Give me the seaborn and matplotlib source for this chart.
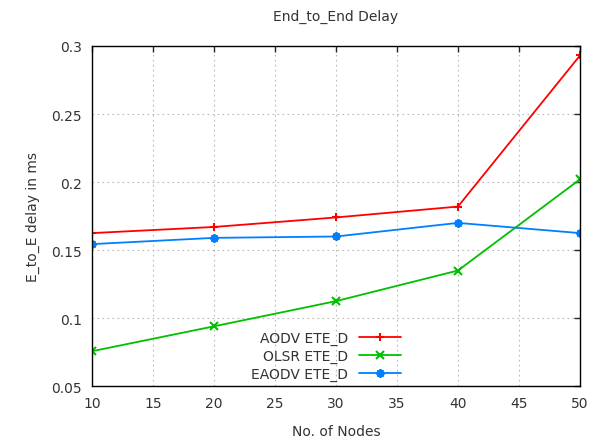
import numpy as np
import pandas as pd
import matplotlib
matplotlib.use("Agg")
import matplotlib.pyplot as plt
import seaborn as sns

nodes = [10, 20, 30, 40, 50]
aodv = [0.1625, 0.167, 0.174, 0.182, 0.293]
olsr = [0.0757, 0.094, 0.1125, 0.135, 0.202]
eaodv = [0.1544, 0.159, 0.160, 0.170, 0.1625]

series = ["AODV ETE_D", "OLSR ETE_D", "EAODV ETE_D"]
colors = ["#ff0000", "#00c000", "#0080ff"]
markers = ["+", "x", (8, 2, 0)]

df = pd.DataFrame({
    "nodes": nodes * 3,
    "delay": aodv + olsr + eaodv,
    "series": np.repeat(series, len(nodes)),
})

sns.set_style("white")
plt.rcParams["font.family"] = ["DejaVu Sans"]

fig = plt.figure(figsize=(6.01, 4.39), dpi=100)
ax = fig.add_axes([0.153, 0.118, 0.812, 0.775])

sns.lineplot(data=df, x="nodes", y="delay", hue="series", style="series",
             palette=colors, markers=markers, dashes=False, ax=ax,
             linewidth=1.3, markersize=6, markeredgewidth=1.5)
# gnuplot style: marker edges in the line colour
for ln in ax.lines:
    ln.set_markeredgecolor(ln.get_color())

ax.set_xlim(10, 50)
ax.set_ylim(0.05, 0.3)
ax.set_xticks(range(10, 51, 5))
ax.set_yticks([0.05, 0.1, 0.15, 0.2, 0.25, 0.3])
ax.set_yticklabels(["0.05", "0.1", "0.15", "0.2", "0.25", "0.3"])
ax.grid(True, color="#b8b8b8", linestyle=(0, (1.5, 3)), linewidth=0.8)
ax.tick_params(direction="in", top=True, right=True, length=4, width=1,
               labelsize=10, labelcolor="#333333", pad=7)
for s in ax.spines.values():
    s.set_color("black")
    s.set_linewidth(1)

ax.set_title("End_to_End Delay", fontsize=10, color="#333333", pad=19)
ax.set_xlabel("No. of Nodes", fontsize=10, color="#333333", labelpad=10)
ax.set_ylabel("E_to_E delay in ms", fontsize=10, color="#333333", labelpad=8)

handles, labels = ax.get_legend_handles_labels()
for h in handles:
    h.set_markeredgecolor(h.get_color())
ax.legend(handles, labels, loc="lower center", bbox_to_anchor=(0.48, -0.02),
          frameon=False, markerfirst=False, fontsize=10, handlelength=3,
          labelspacing=0.25, labelcolor="#333333")

fig.savefig("out.png", dpi=100)
